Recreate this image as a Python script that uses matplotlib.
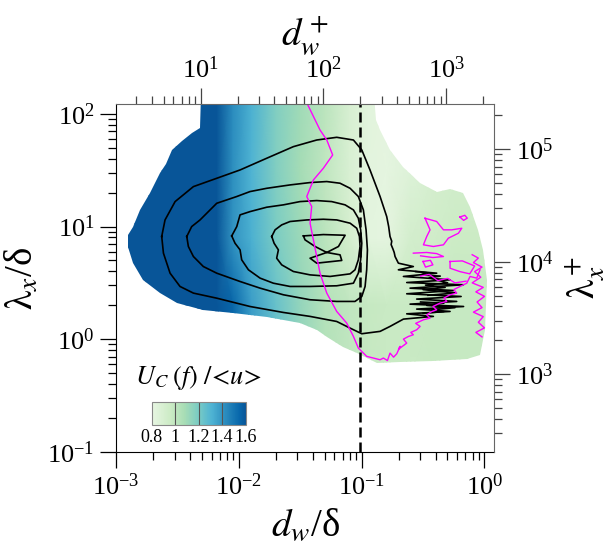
import numpy as np
import matplotlib
matplotlib.use('Agg')
import matplotlib.pyplot as plt
from matplotlib.colors import ListedColormap
from matplotlib.patches import Polygon

plt.rcParams['font.family'] = ['Liberation Serif', 'DejaVu Serif']
plt.rcParams['mathtext.fontset'] = 'stix'
plt.rcParams['axes.unicode_minus'] = False

# --------------------------
# Data (log10 of d_w/delta and lambda_x/delta)
# --------------------------
RE_TAU = 2050
X_LIM = (1e-3, 1.197)
Y_LIM = (1e-1, 122.7)
DASH_DPLUS = 200          # dashed line at d_w+ = 200

# convection velocity U_c/<u>, coarse grid
grid_log_dw = [-3.0, -2.3, -2.18, -2.05, -1.9, -1.7, -1.5, -1.3, -1.1, -0.95, -0.8, -0.6, -0.4, -0.2, 0.1]
grid_log_lam = [2.2, 1.5, 0.9, 0.3, -0.3]
uc_row_top = [1.7, 1.7, 1.62, 1.43, 1.32, 1.18, 1.10, 1.02, 0.90, 0.84, 0.82, 0.86, 0.90, 0.92, 0.92]
uc_row_upper = [1.7, 1.7, 1.62, 1.42, 1.31, 1.18, 1.09, 1.00, 0.89, 0.83, 0.82, 0.86, 0.91, 0.93, 0.93]
uc_row_mid = [1.7, 1.7, 1.62, 1.41, 1.32, 1.20, 1.11, 1.02, 0.91, 0.83, 0.82, 0.92, 0.94, 0.96, 0.96]
uc_row_lower = [1.7, 1.7, 1.7, 1.55, 1.38, 1.25, 1.13, 1.04, 1.00, 0.98, 0.97, 0.97, 0.98, 0.98, 0.98]
uc_row_bottom = [1.7, 1.7, 1.7, 1.55, 1.38, 1.25, 1.13, 1.04, 1.00, 0.98, 0.97, 0.97, 0.98, 0.98, 0.98]

# edge of the region where U_c is defined
edge = [(-2.308, 2.17), (-2.316, 1.876), (-2.380, 1.830), (-2.462, 1.763), (-2.544, 1.681), (-2.597, 1.560),
        (-2.642, 1.476), (-2.723, 1.299), (-2.805, 1.148), (-2.862, 0.997), (-2.902, 0.926), (-2.902, 0.820),
        (-2.862, 0.678), (-2.780, 0.527), (-2.642, 0.412), (-2.503, 0.323), (-2.292, 0.261), (-2.047, 0.234),
        (-1.770, 0.199), (-1.502, 0.146), (-1.364, 0.083), (-1.282, 0.021), (-1.151, -0.067), (-1.037, -0.121),
        (-0.956, -0.168), (-0.875, -0.210), (-0.687, -0.201), (-0.419, -0.192), (-0.142, -0.174), (-0.036, -0.138),
        (0.005, 0.083), (0.021, 0.527), (-0.011, 0.793), (-0.052, 0.971), (-0.117, 1.175), (-0.174, 1.299),
        (-0.280, 1.335), (-0.386, 1.308), (-0.524, 1.388), (-0.663, 1.530), (-0.769, 1.681), (-0.850, 1.858),
        (-0.883, 1.947), (-0.899, 2.17)]

# black contours
c1 = [(-2.628, 0.912), (-2.601, 1.059), (-2.519, 1.222), (-2.370, 1.355), (-2.180, 1.429), (-1.990, 1.503),
      (-1.773, 1.607), (-1.556, 1.710), (-1.366, 1.769), (-1.203, 1.793), (-1.067, 1.769), (-0.999, 1.681),
      (-0.932, 1.503), (-0.850, 1.267), (-0.796, 1.089), (-0.780, 1.000), (-0.769, 0.912), (-0.755, 0.870),
      (-0.760, 0.840), (-0.745, 0.800), (-0.735, 0.770), (-0.728, 0.734),
      (-0.701, 0.675), (-0.579, 0.645), (-0.701, 0.616), (-0.389, 0.586), (-0.660, 0.557), (-0.280, 0.527),
      (-0.633, 0.503), (-0.172, 0.483), (-0.606, 0.453), (-0.253, 0.432), (-0.633, 0.403), (-0.190, 0.379),
      (-0.552, 0.356), (-0.226, 0.335), (-0.606, 0.311), (-0.170, 0.290), (-0.552, 0.267), (-0.280, 0.246),
      (-0.633, 0.225), (-0.416, 0.202), (-0.660, 0.178), (-0.769, 0.113), (-0.850, 0.069), (-0.999, 0.048),
      (-1.094, 0.098), (-1.203, 0.157), (-1.420, 0.202), (-1.637, 0.237), (-1.909, 0.290), (-2.180, 0.364),
      (-2.370, 0.409), (-2.479, 0.468), (-2.560, 0.586), (-2.614, 0.764), (-2.628, 0.912)]
c2 = [(-2.424, 0.912), (-2.384, 1.000), (-2.316, 1.059), (-2.180, 1.207), (-2.017, 1.267), (-1.909, 1.311),
      (-1.773, 1.340), (-1.583, 1.370), (-1.420, 1.391), (-1.284, 1.400), (-1.176, 1.385), (-1.094, 1.340),
      (-1.027, 1.267), (-0.986, 1.148), (-0.964, 0.971), (-0.953, 0.793), (-0.959, 0.616), (-0.972, 0.468),
      (-0.999, 0.379), (-1.054, 0.335), (-1.203, 0.335), (-1.420, 0.350), (-1.637, 0.394), (-1.827, 0.453),
      (-1.990, 0.512), (-2.180, 0.586), (-2.289, 0.645), (-2.370, 0.734), (-2.411, 0.823), (-2.424, 0.912)]
c3 = [(-2.058, 0.917), (-2.017, 1.000), (-1.990, 1.104), (-1.909, 1.133), (-1.773, 1.172), (-1.637, 1.193),
      (-1.502, 1.222), (-1.366, 1.231), (-1.244, 1.222), (-1.135, 1.193), (-1.067, 1.148), (-1.027, 1.074),
      (-1.008, 0.971), (-0.999, 0.852), (-1.008, 0.705), (-1.027, 0.586), (-1.067, 0.497), (-1.203, 0.474),
      (-1.420, 0.468), (-1.583, 0.468), (-1.719, 0.497), (-1.827, 0.542), (-1.922, 0.616), (-1.977, 0.705),
      (-1.990, 0.793), (-2.031, 0.852), (-2.058, 0.917)]
c4 = [(-1.732, 0.912), (-1.705, 0.971), (-1.651, 1.015), (-1.583, 1.045), (-1.447, 1.059), (-1.312, 1.065),
      (-1.203, 1.059), (-1.094, 1.030), (-1.040, 0.985), (-1.018, 0.912), (-1.013, 0.823), (-1.027, 0.705),
      (-1.054, 0.616), (-1.094, 0.580), (-1.257, 0.557), (-1.420, 0.571), (-1.556, 0.601), (-1.651, 0.660),
      (-1.692, 0.719), (-1.678, 0.793), (-1.713, 0.852), (-1.732, 0.912)]
c5 = [(-1.474, 0.917), (-1.312, 0.929), (-1.135, 0.923), (-1.189, 0.823), (-1.284, 0.770), (-1.176, 0.749),
      (-1.162, 0.699), (-1.366, 0.675), (-1.420, 0.719), (-1.284, 0.770), (-1.379, 0.823), (-1.461, 0.882),
      (-1.474, 0.917)]
c6 = [(-0.560, 0.600), (-0.470, 0.590), (-0.520, 0.570), (-0.360, 0.560), (-0.450, 0.545), (-0.300, 0.500),
      (-0.480, 0.480), (-0.320, 0.460), (-0.500, 0.440), (-0.230, 0.410), (-0.460, 0.390)]
c7 = [(-0.520, 0.330), (-0.330, 0.320), (-0.470, 0.300), (-0.240, 0.280), (-0.430, 0.260), (-0.330, 0.245),
      (-0.500, 0.230)]

# magenta contours
m1 = [(-1.447, 2.10), (-1.339, 1.858), (-1.284, 1.769), (-1.236, 1.636), (-1.312, 1.518), (-1.393, 1.414),
      (-1.447, 1.267), (-1.407, 1.178), (-1.420, 1.030), (-1.393, 0.882), (-1.366, 0.734), (-1.339, 0.586),
      (-1.284, 0.409), (-1.203, 0.246), (-1.122, 0.143), (-1.067, 0.024), (-1.027, -0.079), (-0.959, -0.153),
      (-0.850, -0.183), (-0.823, -0.168), (-0.790, -0.190), (-0.769, -0.124), (-0.740, -0.160), (-0.714, -0.130),
      (-0.687, -0.064), (-0.700, -0.090), (-0.633, -0.035), (-0.660, 0.000), (-0.619, 0.024), (-0.579, 0.039),
      (-0.600, 0.060), (-0.552, 0.083), (-0.524, 0.113), (-0.560, 0.140), (-0.497, 0.172), (-0.443, 0.187),
      (-0.470, 0.215), (-0.429, 0.246), (-0.389, 0.261), (-0.420, 0.290), (-0.362, 0.320), (-0.307, 0.335),
      (-0.330, 0.365), (-0.280, 0.394), (-0.226, 0.409), (-0.250, 0.440), (-0.199, 0.468), (-0.144, 0.497),
      (-0.117, 0.557), (-0.063, 0.542), (-0.036, 0.616)]
m2 = [(-0.484, 1.074), (-0.389, 1.045), (-0.334, 0.971), (-0.267, 0.971), (-0.185, 0.985), (-0.212, 0.941),
      (-0.294, 0.897), (-0.334, 0.838), (-0.416, 0.823), (-0.497, 0.838), (-0.470, 0.912), (-0.443, 0.971),
      (-0.484, 1.074)]
m3 = [(-0.200, 1.085), (-0.160, 1.100), (-0.140, 1.075), (-0.170, 1.055), (-0.200, 1.085)]
m4 = [(-0.579, 0.764), (-0.470, 0.770), (-0.389, 0.760), (-0.334, 0.734), (-0.420, 0.725), (-0.520, 0.740)]
m5 = [(-0.500, 0.690), (-0.440, 0.700), (-0.420, 0.660), (-0.480, 0.640), (-0.500, 0.690)]
m6 = [(-0.280, 0.690), (-0.180, 0.695), (-0.080, 0.650), (-0.120, 0.580), (-0.200, 0.600), (-0.280, 0.630),
      (-0.280, 0.690)]
m7 = [(-0.100, 0.750), (-0.050, 0.720), (-0.090, 0.680), (-0.020, 0.640), (-0.080, 0.600), (-0.030, 0.550),
      (-0.100, 0.500), (-0.010, 0.460), (-0.070, 0.420), (0.000, 0.380), (-0.060, 0.330), (-0.020, 0.280),
      (-0.090, 0.240), (-0.010, 0.200), (-0.050, 0.150), (0.000, 0.100), (-0.070, 0.060), (-0.020, 0.020)]
m8 = [(-0.520, 0.560), (-0.450, 0.575), (-0.380, 0.520), (-0.300, 0.540), (-0.240, 0.500), (-0.150, 0.515)]

# --------------------------
# Figure
# --------------------------
fig = plt.figure(figsize=(6.11, 5.5), dpi=100)
ax = fig.add_axes([0.1899, 0.1787, 0.6187, 0.6322])
ax.set_xscale('log')
ax.set_yscale('log')
ax.set_xlim(*X_LIM)
ax.set_ylim(*Y_LIM)

cmap = ListedColormap(plt.get_cmap('GnBu')(np.linspace(0.08, 0.93, 256)))
gx, gy = np.meshgrid(10.0 ** np.array(grid_log_dw), 10.0 ** np.array(grid_log_lam))
uc = np.array([uc_row_top, uc_row_upper, uc_row_mid, uc_row_lower, uc_row_bottom])
mesh = ax.pcolormesh(gx, gy, uc, shading='gouraud', cmap=cmap, vmin=0.8, vmax=1.6, zorder=1)
edge_xy = 10.0 ** np.array(edge)
clip = Polygon(edge_xy, closed=True, transform=ax.transData, facecolor='none', edgecolor='none')
mesh.set_clip_path(clip)

for c in [c1, c2, c3, c4, c5, c6, c7]:
    p = 10.0 ** np.array(c)
    ax.plot(p[:, 0], p[:, 1], color='black', lw=1.2, zorder=3)
for m in [m1, m2, m3, m4, m5, m6, m7, m8]:
    p = 10.0 ** np.array(m)
    ax.plot(p[:, 0], p[:, 1], color='#ff00ff', lw=1.0, zorder=4)

ax.axvline(DASH_DPLUS / RE_TAU, color='black', lw=1.8, dashes=(4, 2), zorder=5)

# ticks / spines
tick_kw = dict(direction='out', labelsize=19, pad=4)
ax.tick_params(which='major', length=11.5, width=0.9, **tick_kw)
ax.tick_params(which='minor', length=5.8, width=0.9)
ax.spines['top'].set_visible(False)
ax.spines['right'].set_visible(False)

ax_top = ax.twiny()
ax_top.set_xscale('log')
ax_top.set_xlim(X_LIM[0] * RE_TAU, X_LIM[1] * RE_TAU)
ax_r = ax.twinx()
ax_r.set_yscale('log')
ax_r.set_ylim(Y_LIM[0] * RE_TAU, Y_LIM[1] * RE_TAU)
for a in [ax_top, ax_r]:
    a.tick_params(which='major', length=11.5, width=0.9, **tick_kw)
    a.tick_params(which='minor', length=5.8, width=0.9)
    for s in a.spines.values():
        s.set_visible(False)
ax_top.spines['top'].set_visible(True)
ax_r.spines['right'].set_visible(True)
ax_top.spines['top'].set_color('#666666')
ax_r.spines['right'].set_color('#666666')
ax_top.tick_params(which='both', color='#444444')
ax_r.tick_params(which='both', color='#444444')

ax.set_xlabel(r'$d_w$/δ', fontsize=28, labelpad=6)
ax.set_ylabel(r'$\mathrm{\lambda}_x$/δ', fontsize=28, labelpad=4)
ax_top.set_xlabel(r'$d_w^+$', fontsize=28, labelpad=8)
ax_r.set_ylabel(r'$\mathrm{\lambda}_x^+$', fontsize=28, labelpad=8, rotation=90)

# --------------------------
# Inset colour bar
# --------------------------
cax = fig.add_axes([0.248, 0.227, 0.154, 0.042])
cb = fig.colorbar(mesh, cax=cax, orientation='horizontal', ticks=[0.8, 1.0, 1.2, 1.4, 1.6])
cb.ax.set_xticklabels(['0.8', '1', '1.2', '1.4', '1.6'])
cb.ax.tick_params(length=0, labelsize=13, pad=3)
cb.outline.set_edgecolor('#888888')
cb.outline.set_linewidth(0.8)
for v in [1.0, 1.2, 1.4]:
    cax.axvline(v, color='#555555', lw=0.8)
cax.text(0.5, 1.45, r'$U_C\;(f)\;/\!<\!u\!>$', transform=cax.transAxes,
         ha='center', va='bottom', fontsize=19)

fig.savefig('out.png', dpi=100)
